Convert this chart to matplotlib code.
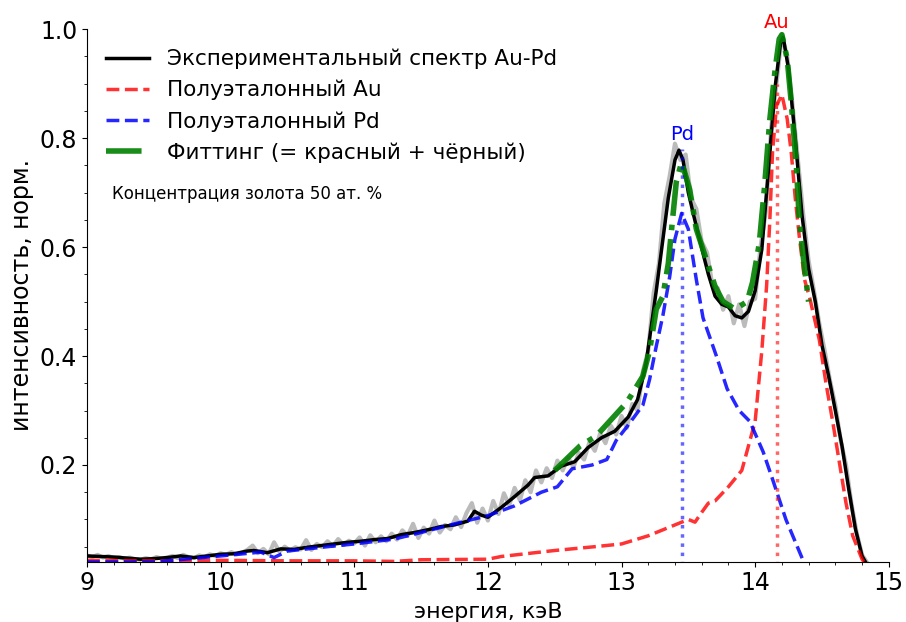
import numpy as np
import matplotlib
matplotlib.use("Agg")
import matplotlib.pyplot as plt
from matplotlib.ticker import MultipleLocator

# experimental spectrum, smoothed (black)
exp_x = [9.0, 9.1, 9.2, 9.3, 9.4, 9.5, 9.6, 9.7, 9.8, 9.9, 10.0, 10.1, 10.2, 10.25,
         10.35, 10.45, 10.55, 10.65, 10.75, 10.85, 10.95, 11.05, 11.15, 11.25, 11.35,
         11.45, 11.55, 11.65, 11.75, 11.85, 11.9, 11.95, 12.0, 12.1, 12.2, 12.3, 12.35,
         12.45, 12.55, 12.65, 12.75, 12.85, 12.95, 13.05, 13.12, 13.18, 13.22, 13.26,
         13.30, 13.35, 13.40, 13.43, 13.46, 13.50, 13.55, 13.60, 13.65, 13.70, 13.75,
         13.80, 13.85, 13.90, 13.95, 14.00, 14.05, 14.10, 14.15, 14.19, 14.21, 14.25,
         14.30, 14.35, 14.40, 14.45, 14.50, 14.55, 14.60, 14.65, 14.70, 14.75, 14.80, 14.83]
exp_y = [0.033, 0.032, 0.031, 0.029, 0.027, 0.028, 0.030, 0.033, 0.030, 0.033, 0.036,
         0.037, 0.042, 0.043, 0.039, 0.046, 0.045, 0.049, 0.052, 0.055, 0.058, 0.060,
         0.063, 0.065, 0.072, 0.076, 0.081, 0.087, 0.090, 0.097, 0.115, 0.108, 0.104,
         0.122, 0.142, 0.163, 0.177, 0.180, 0.198, 0.206, 0.232, 0.250, 0.262, 0.288,
         0.320, 0.380, 0.450, 0.520, 0.596, 0.690, 0.760, 0.778, 0.760, 0.700, 0.648,
         0.598, 0.550, 0.510, 0.495, 0.490, 0.474, 0.470, 0.482, 0.520, 0.596, 0.743,
         0.895, 0.975, 0.985, 0.927, 0.800, 0.660, 0.560, 0.500, 0.420, 0.363, 0.300,
         0.235, 0.156, 0.083, 0.033, 0.020]

# raw (noisy) spectrum, grey, step 0.04 keV from 9.0
raw_x0, raw_dx = 9.0, 0.04
raw_y = [0.034, 0.031, 0.035, 0.030, 0.033, 0.029, 0.031, 0.028, 0.030, 0.027,
         0.026, 0.029, 0.027, 0.031, 0.028, 0.030, 0.033, 0.029, 0.035, 0.031,
         0.029, 0.034, 0.031, 0.036, 0.033, 0.038, 0.035, 0.040, 0.036, 0.039,
         0.044, 0.052, 0.038, 0.046, 0.036, 0.058, 0.041, 0.050, 0.043, 0.049,
         0.045, 0.062, 0.044, 0.055, 0.049, 0.060, 0.051, 0.064, 0.053, 0.061,
         0.056, 0.067, 0.052, 0.071, 0.058, 0.069, 0.060, 0.074, 0.063, 0.080,
         0.070, 0.092, 0.066, 0.085, 0.074, 0.098, 0.076, 0.090, 0.082, 0.104,
         0.086, 0.112, 0.130, 0.094, 0.120, 0.098, 0.134, 0.110, 0.148, 0.126,
         0.158, 0.135, 0.172, 0.150, 0.190, 0.168, 0.194, 0.176, 0.208, 0.190,
         0.214, 0.196, 0.222, 0.210, 0.242, 0.226, 0.258, 0.240, 0.272, 0.256,
         0.290, 0.268, 0.312, 0.300, 0.372, 0.410, 0.515, 0.570, 0.680, 0.730,
         0.790, 0.760, 0.770, 0.690, 0.670, 0.610, 0.590, 0.530, 0.525, 0.485,
         0.510, 0.460, 0.495, 0.455, 0.500, 0.505, 0.600, 0.665, 0.820, 0.900,
         0.990, 0.950, 0.860, 0.760, 0.660, 0.575, 0.520, 0.460, 0.410, 0.355,
         0.310, 0.245, 0.200, 0.130, 0.075, 0.035, 0.020]
raw_x = raw_x0 + raw_dx * np.arange(len(raw_y))

# semi-standard Au (red dashed)
au_x = [9.0, 9.5, 10.0, 10.5, 11.0, 11.3, 11.5, 12.0, 12.1, 12.5, 12.8, 13.0, 13.2,
        13.4, 13.5, 13.55, 13.6, 13.65, 13.7, 13.8, 13.9, 13.95, 14.0, 14.05, 14.086,
        14.11, 14.13, 14.16, 14.2, 14.24, 14.27, 14.3, 14.33, 14.37, 14.41, 14.48,
        14.53, 14.58, 14.63, 14.68, 14.73, 14.8, 14.82]
au_y = [0.025, 0.024, 0.025, 0.024, 0.024, 0.023, 0.026, 0.027, 0.032, 0.043, 0.050,
        0.055, 0.070, 0.090, 0.100, 0.095, 0.113, 0.130, 0.134, 0.160, 0.190, 0.235,
        0.280, 0.410, 0.530, 0.650, 0.774, 0.860, 0.880, 0.835, 0.774, 0.690, 0.620,
        0.540, 0.505, 0.430, 0.350, 0.280, 0.205, 0.130, 0.070, 0.027, 0.020]

# semi-standard Pd (blue dashed)
pd_x = [9.0, 9.5, 10.0, 10.3, 10.4, 10.5, 10.8, 11.0, 11.3, 11.5, 11.8, 12.0, 12.2,
        12.4, 12.52, 12.63, 12.78, 12.89, 12.96, 13.04, 13.16, 13.21, 13.26, 13.31,
        13.36, 13.40, 13.45, 13.50, 13.56, 13.61, 13.71, 13.79, 13.88, 13.96, 14.06,
        14.13, 14.23, 14.36]
pd_y = [0.022, 0.022, 0.033, 0.040, 0.030, 0.042, 0.050, 0.055, 0.064, 0.076, 0.095,
        0.107, 0.125, 0.150, 0.160, 0.193, 0.200, 0.210, 0.245, 0.270, 0.310, 0.357,
        0.418, 0.475, 0.545, 0.615, 0.662, 0.633, 0.540, 0.470, 0.400, 0.340, 0.300,
        0.280, 0.224, 0.174, 0.100, 0.024]

# fit (green dash-dot)
fit_x = [12.5, 12.69, 12.81, 13.04, 13.16, 13.21, 13.26, 13.31, 13.35, 13.38, 13.41,
         13.45, 13.51, 13.56, 13.64, 13.70, 13.76, 13.85, 13.94, 13.98, 14.03, 14.07,
         14.11, 14.15, 14.18, 14.20, 14.24, 14.27, 14.31, 14.33, 14.37, 14.40]
fit_y = [0.190, 0.235, 0.253, 0.315, 0.363, 0.410, 0.486, 0.510, 0.570, 0.646, 0.720,
         0.756, 0.706, 0.633, 0.573, 0.528, 0.500, 0.486, 0.500, 0.535, 0.605, 0.710,
         0.835, 0.927, 0.982, 0.990, 0.945, 0.866, 0.743, 0.650, 0.560, 0.500]

pd_line, pd_top = 13.45, 0.78
au_line, au_top = 14.16, 0.90

fig = plt.figure(figsize=(9.06, 6.22), dpi=100)
ax = fig.add_axes([0.096, 0.097, 0.885, 0.856])

ax.plot(raw_x, raw_y, color='#b0b0b0', lw=3, alpha=0.85)
ax.plot(exp_x, exp_y, color='black', lw=2.5, label='Экспериментальный спектр Au-Pd')
ax.plot(au_x, au_y, color='red', ls='--', lw=2.5, alpha=0.8, label='Полуэталонный Au')
ax.plot(pd_x, pd_y, color='blue', ls='--', lw=2.5, alpha=0.85, label='Полуэталонный Pd')
ax.plot(fit_x, fit_y, color='green', ls='-.', lw=4, alpha=0.9,
        label='Фиттинг (= красный + чёрный)')
ax.vlines(pd_line, 0, pd_top, colors='blue', linestyles=':', lw=2.5, alpha=0.6)
ax.vlines(au_line, 0, au_top, colors='red', linestyles=':', lw=2.5, alpha=0.6)
ax.text(pd_line, 0.79, 'Pd', color='blue', fontsize=14, ha='center', va='bottom')
ax.text(au_line, 0.995, 'Au', color='red', fontsize=14, ha='center', va='bottom')
ax.text(9.19, 0.697, 'Концентрация золота 50 ат. %', fontsize=12, va='center')

ax.set_xlim(9, 15)
ax.set_ylim(0.0225, 1.0)
ax.set_yticks([0.2, 0.4, 0.6, 0.8, 1.0])
ax.xaxis.set_minor_locator(MultipleLocator(0.2))
ax.yaxis.set_minor_locator(MultipleLocator(0.05))
ax.tick_params(labelsize=17)
ax.spines['top'].set_visible(False)
ax.spines['right'].set_visible(False)
ax.set_xlabel('энергия, кэВ', fontsize=16, labelpad=5)
ax.set_ylabel('интенсивность, норм.', fontsize=17)
ax.legend(loc='upper left', frameon=False, fontsize=15.5, handlelength=2.0,
          bbox_to_anchor=(0.0, 1.0))

fig.savefig('out.png')
